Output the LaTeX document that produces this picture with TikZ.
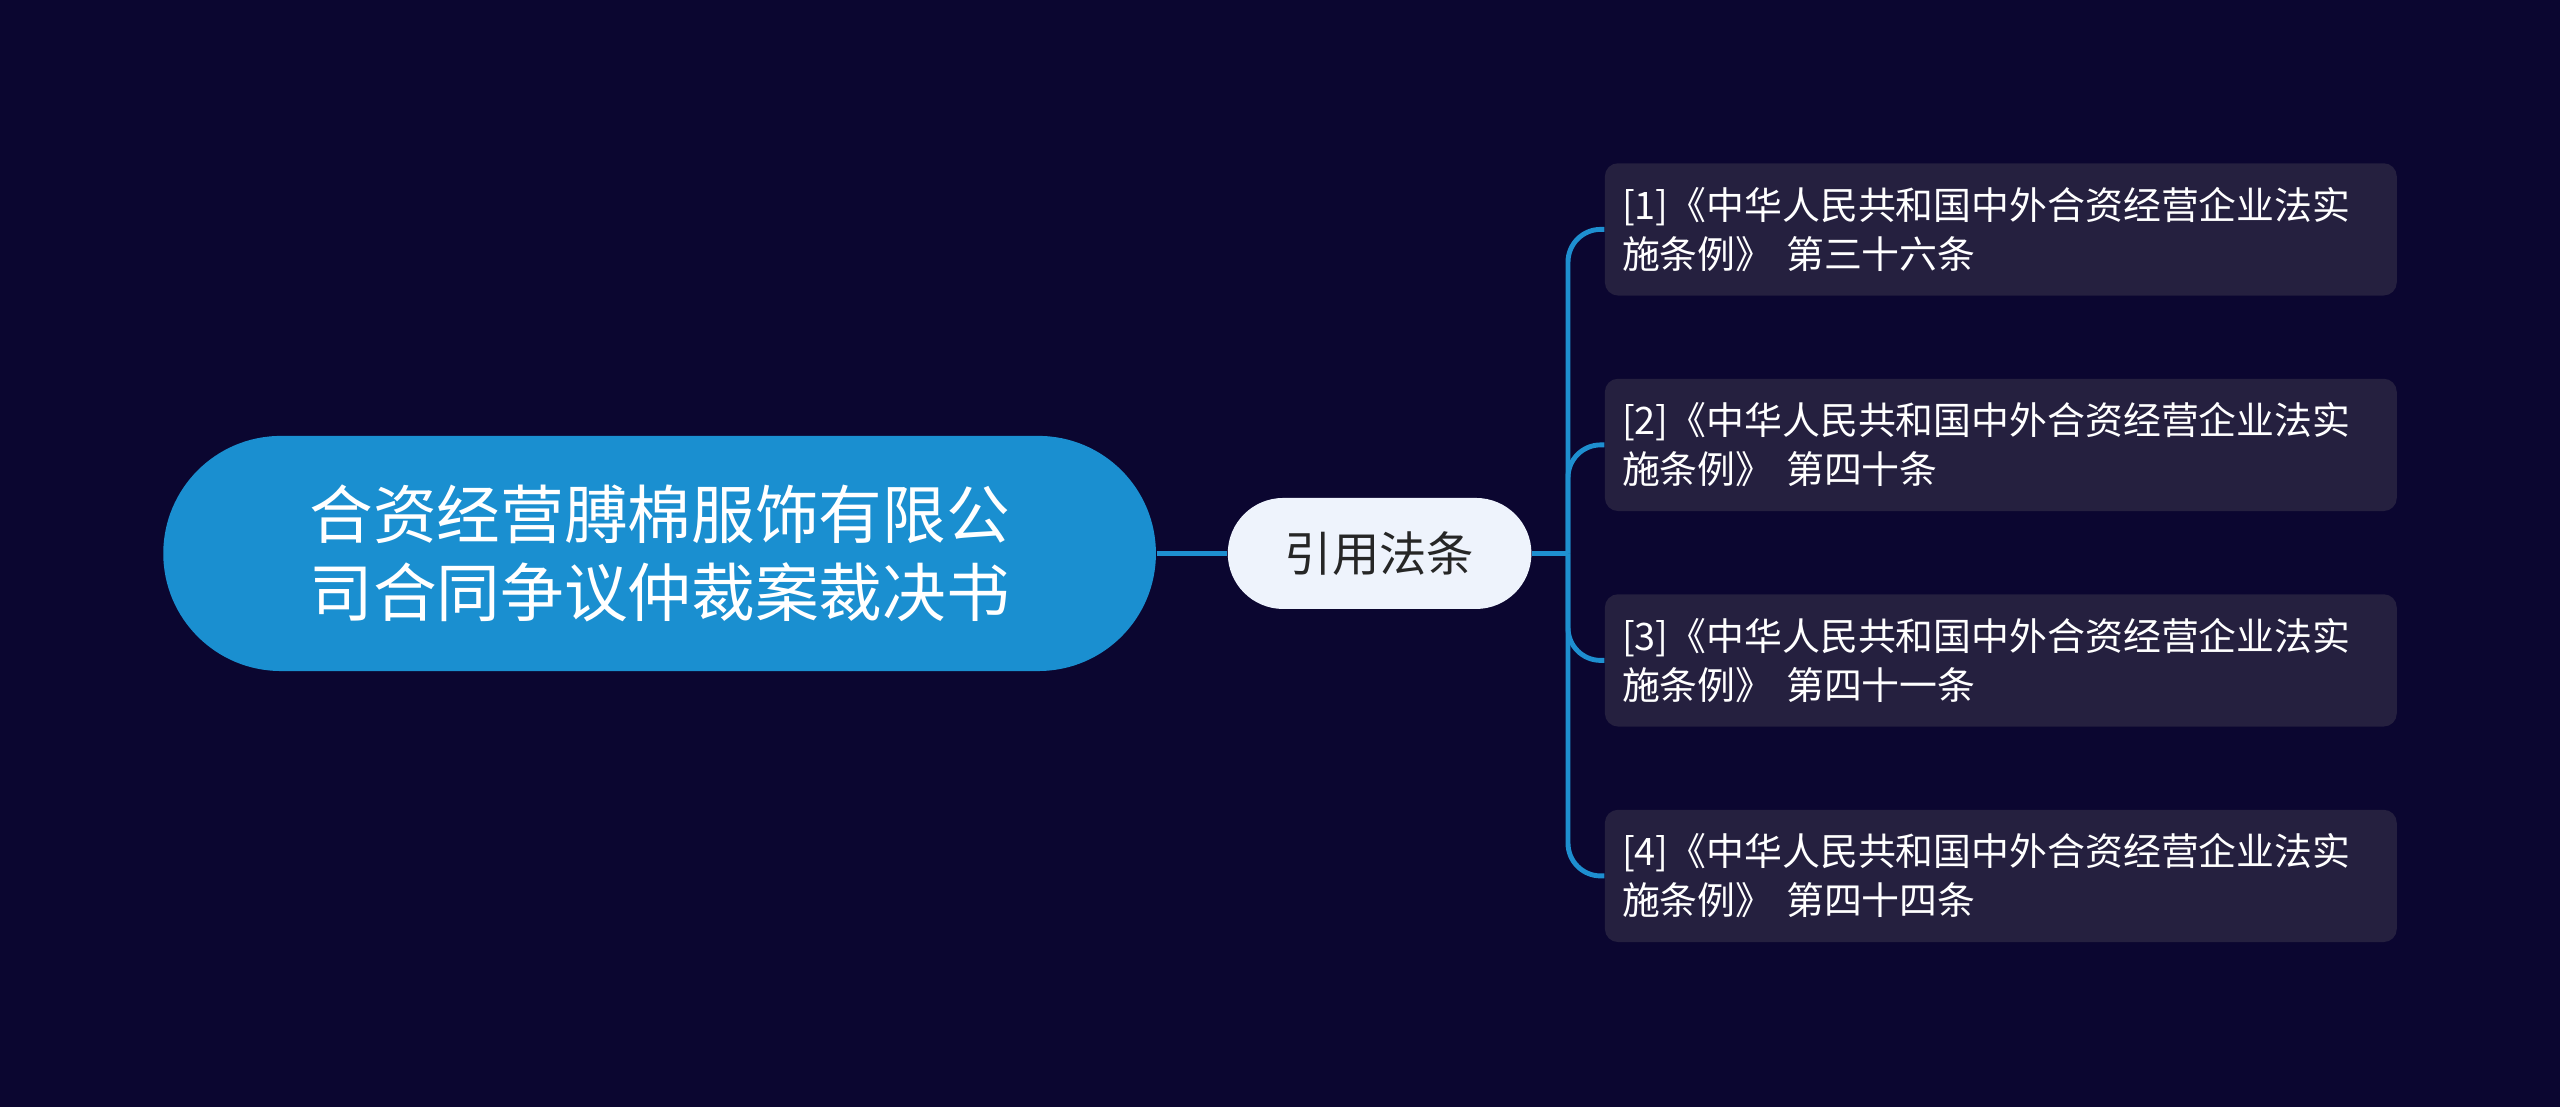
\documentclass[tikz,border=0pt]{standalone}
\usepackage{fontspec}
\setmainfont{Noto Sans CJK SC}
\definecolor{bg}{HTML}{0B0630}
\definecolor{rootc}{HTML}{1A8FD0}
\definecolor{midc}{HTML}{EEF3FC}
\definecolor{leafc}{HTML}{25203F}
\definecolor{linec}{HTML}{1E8FD0}
\begin{document}
\begin{tikzpicture}[x=0.5pt,y=-0.5pt,
  rootbox/.style={fill=rootc,rounded corners=36pt,minimum width=304pt,minimum height=72pt,text=white,font=\fontsize{19.5}{24}\selectfont,align=center,inner sep=0pt},
  midbox/.style={fill=midc,rounded corners=17pt,minimum width=93pt,minimum height=34pt,text=black!85,font=\fontsize{14.5}{17}\selectfont,inner sep=0pt},
  leafbox/.style={fill=leafc,rounded corners=4pt,minimum width=242.5pt,minimum height=40.5pt,text=white,font=\fontsize{11.6}{15}\selectfont,align=left,text width=232pt,inner sep=0pt},
  conn/.style={draw=linec,line width=1.5pt}]
\fill[bg] (0,0) rectangle (1568,678);
\node[rootbox] (root) at (404,339) {合资经营膊棉服饰有限公\\司合同争议仲裁案裁决书};
\node[midbox] (mid) at (845,339) {引用法条};
\node[leafbox] (l1) at (1225.5,140.5) {[1]《中华人民共和国中外合资经营企业法实\\施条例》 第三十六条};
\node[leafbox] (l2) at (1225.5,272.5) {[2]《中华人民共和国中外合资经营企业法实\\施条例》 第四十条};
\node[leafbox] (l3) at (1225.5,404.5) {[3]《中华人民共和国中外合资经营企业法实\\施条例》 第四十一条};
\node[leafbox] (l4) at (1225.5,536.5) {[4]《中华人民共和国中外合资经营企业法实\\施条例》 第四十四条};
\draw[conn] (root.east) -- (mid.west);
\draw[conn] (mid.east) -- ++(22,0) coordinate (j);
\foreach \l in {l1,l2,l3,l4}{\draw[conn,rounded corners=10pt] (j) |- (\l.west);}
\end{tikzpicture}
\end{document}
